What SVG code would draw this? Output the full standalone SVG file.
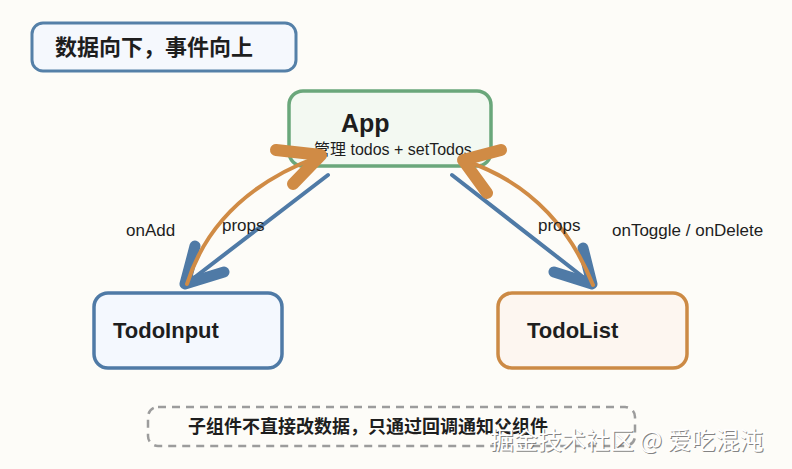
<svg xmlns="http://www.w3.org/2000/svg" width="792" height="469" viewBox="0 0 792 469">
<style>
.lbl{font-family:"Liberation Sans","Noto Sans CJK SC",sans-serif;fill:#1e1e1e}
.zh{font-family:"Noto Sans CJK SC","Liberation Sans",sans-serif;font-weight:bold;fill:#1e1e1e}
.blue{stroke:#4f7aa6;fill:none;stroke-linecap:round;stroke-linejoin:round}
.orange{stroke:#d08b45;fill:none;stroke-linecap:round;stroke-linejoin:round}
</style>
<rect width="792" height="469" fill="#fdfcf8"/>
<g id="title">
<rect x="32" y="23" width="264" height="48" rx="11" fill="#f5f8fd" stroke="#5580a8" stroke-width="3"/>
<text x="55" y="55" class="zh" font-size="22">数据向下，事件向上</text>
</g>
<g id="app">
<rect x="289" y="91" width="202" height="75" rx="14" fill="#f3f9f2" stroke="#6aa77b" stroke-width="3.5"/>
<text x="341" y="132" class="lbl" font-size="25" font-weight="bold">App</text>
<text x="314" y="155" class="lbl" font-size="16">管理 todos + setTodos</text>
</g>
<g id="todoinput">
<rect x="94" y="293" width="188" height="75" rx="14" fill="#f4f8fe" stroke="#4f7aa6" stroke-width="3.5"/>
<text x="113" y="338" class="lbl" font-size="22" font-weight="bold">TodoInput</text>
</g>
<g id="todolist">
<rect x="498" y="293" width="189" height="75" rx="14" fill="#fdf6f0" stroke="#cc8a45" stroke-width="3.5"/>
<text x="527" y="338" class="lbl" font-size="22" font-weight="bold">TodoList</text>
</g>
<g id="connectors">
<path class="blue" stroke-width="4" d="M328,175 L186,284"/>
<path class="blue" stroke-width="11" d="M195,246 L185,284 L224,272"/>
<path class="blue" stroke-width="4" d="M452,175 L592,284"/>
<path class="blue" stroke-width="11" d="M583,248 L592,284 L554,272"/>
<path class="orange" stroke-width="4" d="M187,284 Q215,195 320,156"/>
<path class="orange" stroke-width="12" d="M276,150 L321,155 L293,184"/>
<path class="orange" stroke-width="4" d="M593,285 Q555,190 463,160"/>
<path class="orange" stroke-width="12" d="M501,150 L463,160 L487,193"/>
<text x="126" y="236" class="lbl" font-size="17">onAdd</text>
<text x="222" y="231" class="lbl" font-size="17">props</text>
<text x="538" y="231" class="lbl" font-size="17">props</text>
<text x="612" y="236" class="lbl" font-size="17">onToggle / onDelete</text>
</g>
<g id="note">
<rect x="148" y="407" width="487" height="39" rx="10" fill="none" stroke="#9c9c9c" stroke-width="2.5" stroke-dasharray="8,6"/>
<text x="188" y="433" class="zh" font-size="18">子组件不直接改数据，只通过回调通知父组件</text>
</g>
<g id="watermark">
<text x="491" y="450" font-family="Noto Sans CJK SC,sans-serif" font-size="24" fill="#666" opacity="0.8">掘金技术社区 @ 爱吃混沌</text>
<text x="490" y="449" font-family="Noto Sans CJK SC,sans-serif" font-size="24" fill="#ffffff">掘金技术社区 @ 爱吃混沌</text>
</g>
</svg>
